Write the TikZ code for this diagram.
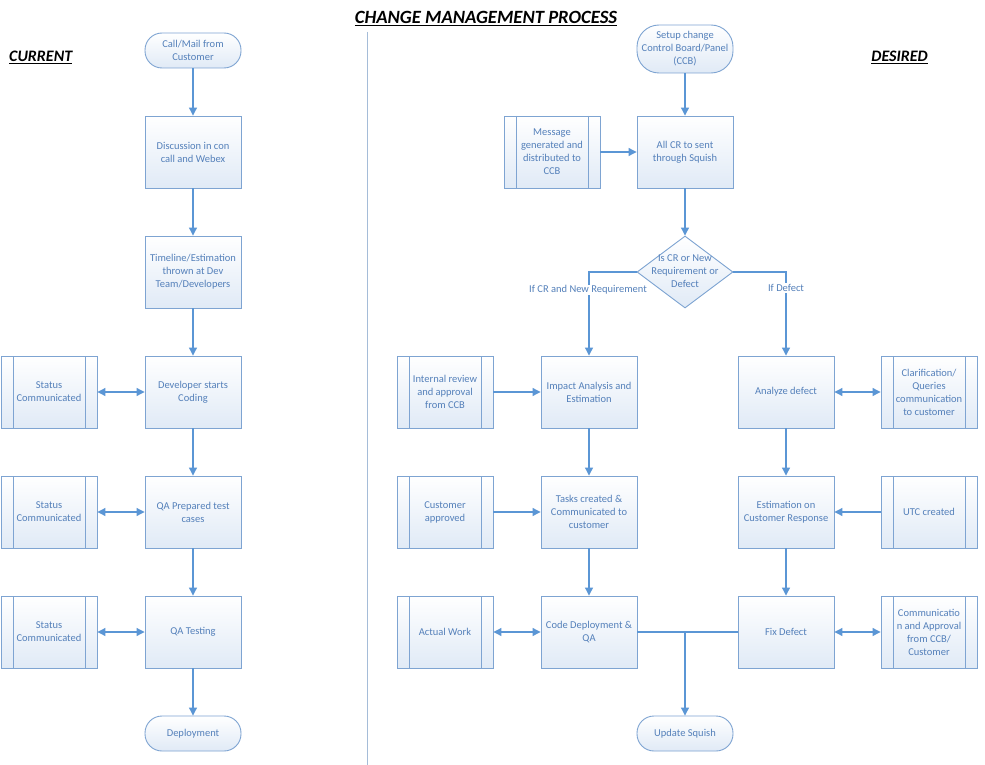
\documentclass[tikz,border=0pt]{standalone}
\usepackage{fontspec}
\setmainfont{Carlito}
\usetikzlibrary{shapes.geometric,arrows.meta}
\definecolor{txtc}{RGB}{84,128,186}
\definecolor{bord}{RGB}{126,164,210}
\definecolor{arrc}{RGB}{91,150,213}
\definecolor{fillc}{RGB}{224,234,246}
\definecolor{divc}{RGB}{165,188,216}
\begin{document}
\begin{tikzpicture}[x=1pt,y=-1pt,
  base/.style={draw=bord, line width=0.9pt, top color=white, bottom color=fillc, text=txtc,
    font=\fontsize{10.5}{13}\selectfont, align=center, inner sep=0pt},
  proc/.style={base, rectangle, minimum width=96pt, minimum height=72pt},
  term/.style={base, rectangle, rounded corners=17pt, minimum width=96pt, minimum height=35pt},
  pre/.style={proc, path picture={\draw[bord, line width=0.9pt]
      ([xshift=12pt]path picture bounding box.north west) -- ([xshift=12pt]path picture bounding box.south west)
      ([xshift=-12pt]path picture bounding box.north east) -- ([xshift=-12pt]path picture bounding box.south east);}},
  dia/.style={base, diamond, aspect=1.333, minimum width=96pt, minimum height=72pt},
  txt/.style={text=txtc, font=\fontsize{10.5}{13}\selectfont, align=center, inner sep=1pt},
  lbl/.style={txt, fill=white},
  conn/.style={draw=arrc, line width=1.1pt},
  arr/.style={conn, -{Triangle[width=8pt,length=8pt]}},
  darr/.style={conn, {Triangle[width=8pt,length=8pt]}-{Triangle[width=8pt,length=8pt]}},
  heading/.style={font=\bfseries\itshape, text=black, inner sep=0pt}
]
\useasboundingbox (0,0) rectangle (985,765);
\fill[white] (0,0) rectangle (985,765);

% headings
\node[heading, font=\fontsize{18.7}{20}\selectfont\bfseries\itshape, anchor=base] (title) at (486,24) {\underline{CHANGE MANAGEMENT PROCESS}};
\node[heading, font=\fontsize{16}{18}\selectfont\bfseries\itshape, anchor=base west] (cur) at (9,62) {\underline{CURRENT}};
\node[heading, font=\fontsize{16}{18}\selectfont\bfseries\itshape, anchor=base east] (des) at (928,62) {\underline{DESIRED}};

% divider
\coordinate (dtop) at (367,32);
\coordinate (dbot) at (367,765);
\draw[divc, line width=1pt] (dtop) -- (dbot);

% ---------- CURRENT ----------
\node[term] (call) at (193,50.5) {Call/Mail from\\Customer};
\node[proc] (disc) at (193,152) {Discussion in con\\call and Webex};
\node[proc] (time) at (193,272) {Timeline/Estimation\\thrown at Dev\\Team/Developers};
\node[proc] (dev) at (193,392) {Developer starts\\Coding};
\node[proc] (qap) at (193,512) {QA Prepared test\\cases};
\node[proc] (qat) at (193,632) {QA Testing};
\node[term] (depl) at (193,733.5) {Deployment};
\node[pre] (s1) at (49,392) {Status\\Communicated};
\node[pre] (s2) at (49,512) {Status\\Communicated};
\node[pre] (s3) at (49,632) {Status\\Communicated};

\draw[arr] (call) -- (disc);
\draw[arr] (disc) -- (time);
\draw[arr] (time) -- (dev);
\draw[arr] (dev) -- (qap);
\draw[arr] (qap) -- (qat);
\draw[arr] (qat) -- (depl);
\draw[darr] (s1) -- (dev);
\draw[darr] (s2) -- (qap);
\draw[darr] (s3) -- (qat);

% ---------- DESIRED ----------
\node[term, minimum height=48pt, rounded corners=22pt] (setup) at (685,49) {Setup change\\Control Board/Panel\\(CCB)};
\node[proc] (allcr) at (685,152) {All CR to sent\\through Squish};
\node[pre] (msg) at (552,152) {Message\\generated and\\distributed to\\CCB};
\node[dia] (dec) at (685,272) {};
\node[txt] (dectxt) at (685,271.5) {Is CR or New\\Requirement or\\Defect};
\node[proc] (imp) at (589,392) {Impact Analysis and\\Estimation};
\node[pre] (irev) at (445,392) {Internal review\\and approval\\from CCB};
\node[proc] (ana) at (786,392) {Analyze defect};
\node[pre] (clar) at (929,392) {Clarification/\\Queries\\communication\\to customer};
\node[proc] (task) at (589,512) {Tasks created \&\\Communicated to\\customer};
\node[pre] (capp) at (445,512) {Customer\\approved};
\node[proc] (est) at (786,512) {Estimation on\\Customer Response};
\node[pre] (utc) at (929,512) {UTC created};
\node[proc] (code) at (589,632) {Code Deployment \&\\QA};
\node[pre] (act) at (445,632) {Actual Work};
\node[proc] (fix) at (786,632) {Fix Defect};
\node[pre] (comm) at (929,632) {Communicatio\\n and Approval\\from CCB/\\Customer};
\node[term] (upd) at (685,733.5) {Update Squish};

\draw[arr] (setup) -- (allcr);
\draw[arr] (msg) -- (allcr);
\draw[arr] (allcr) -- (dec);
\draw[arr] (dec.west) -| (imp.north);
\draw[arr] (dec.east) -| (ana.north);
\node[lbl] (lcr) at (588,290) {If CR and New Requirement};
\node[lbl] (ldef) at (786,288) {If Defect};
\draw[arr] (irev) -- (imp);
\draw[darr] (ana) -- (clar);
\draw[arr] (imp) -- (task);
\draw[arr] (ana) -- (est);
\draw[arr] (capp) -- (task);
\draw[arr] (utc) -- (est);
\draw[arr] (task) -- (code);
\draw[arr] (est) -- (fix);
\draw[darr] (act) -- (code);
\draw[darr] (fix) -- (comm);
\draw[conn] (code.east) -- (fix.west);
\draw[arr] (code.east -| upd.north) -- (upd.north);
\end{tikzpicture}
\end{document}
